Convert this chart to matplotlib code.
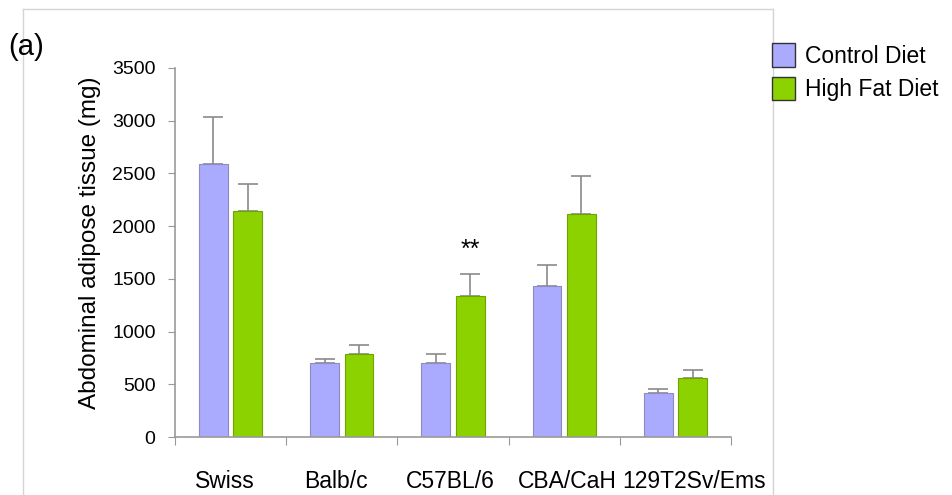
import numpy as np
import matplotlib.pyplot as plt
from matplotlib.lines import Line2D
from matplotlib.patches import Patch

plt.rcParams['font.family'] = ['Liberation Sans', 'DejaVu Sans']

strains = ['Swiss', 'Balb/c', 'C57BL/6', 'CBA/CaH', '129T2Sv/Ems']
control = [2590, 705, 700, 1435, 420]
control_err = [445, 35, 85, 195, 35]
hfd = [2145, 790, 1335, 2115, 555]
hfd_err = [255, 85, 210, 360, 85]
yticks = [0, 500, 1000, 1500, 2000, 2500, 3000, 3500]

ctrl_col = '#aaaaff'
hfd_col = '#8cd200'

W, H = 952, 495
fig = plt.figure(figsize=(W/100, H/100), dpi=100)
ax = fig.add_axes([175/W, 1-437/H, (731-175)/W, (437-68)/H])

x = np.arange(len(strains))
w = 0.26
off = 0.155
ax.bar(x-off, control, w, color=ctrl_col, edgecolor='#8c8cc0', linewidth=0.8, zorder=2)
ax.bar(x+off, hfd, w, color=hfd_col, edgecolor='#6fa300', linewidth=0.8, zorder=2)
ax.errorbar(x-off, control, yerr=[np.zeros(len(x)), control_err], fmt='none',
            ecolor='#8a8a8a', elinewidth=1.2, capsize=7, capthick=1.2, zorder=1)
ax.errorbar(x+off, hfd, yerr=[np.zeros(len(x)), hfd_err], fmt='none',
            ecolor='#8a8a8a', elinewidth=1.2, capsize=7, capthick=1.2, zorder=1)

# significance mark over C57BL/6 high fat
ax.text(x[2]+off, hfd[2]+hfd_err[2]+120, '**', ha='center', va='bottom', fontsize=18)

ax.set_xlim(-0.5, len(strains)-0.5)
ax.set_ylim(0, 3500)
ax.set_yticks(yticks)
ax.tick_params(axis='y', labelsize=14, length=5, color='#999999', pad=9)
ax.set_xticks(np.arange(len(strains)+1)-0.5)
ax.set_xticklabels([])
ax.tick_params(axis='x', length=6, color='#999999')
# labels nudged so the long last name does not run into its neighbour
lab_shift = np.array([-0.05, -0.05, -0.02, 0.03, 0.17])
ax.set_xticks(x + lab_shift, minor=True)
ax.set_xticklabels(strains, minor=True, fontsize=16.5)
ax.tick_params(axis='x', which='minor', length=0, pad=24)
for s in ['top', 'right']:
    ax.spines[s].set_visible(False)
for s in ['left', 'bottom']:
    ax.spines[s].set_color('#999999')
    ax.spines[s].set_linewidth(1.2)
ax.set_ylabel('Abdominal adipose tissue (mg)', fontsize=17.5)
ax.yaxis.set_label_coords(-0.133, 0.526)

# panel frame
fc = '#d4d4d4'
fig.add_artist(Line2D([23/W, 23/W], [0, 1-9/H], color=fc, lw=1, transform=fig.transFigure))
fig.add_artist(Line2D([23/W, 773/W], [1-9/H, 1-9/H], color=fc, lw=1, transform=fig.transFigure))
fig.add_artist(Line2D([773/W, 773/W], [0, 1-9/H], color=fc, lw=1, transform=fig.transFigure))

fig.text(8/W, 1-47/H, '(a)', fontsize=21, va='center', ha='left')

handles = [Patch(facecolor=ctrl_col, edgecolor='#333333', lw=1, label='Control Diet'),
           Patch(facecolor=hfd_col, edgecolor='#333333', lw=1, label='High Fat Diet')]
fig.legend(handles=handles, loc='upper left', bbox_to_anchor=(763/W, 1-34/H), frameon=False,
           fontsize=16.5, handlelength=0.98, handleheight=1.2, handletextpad=0.45,
           labelspacing=0.4, borderaxespad=0)

fig.savefig('out.png', dpi=100)
